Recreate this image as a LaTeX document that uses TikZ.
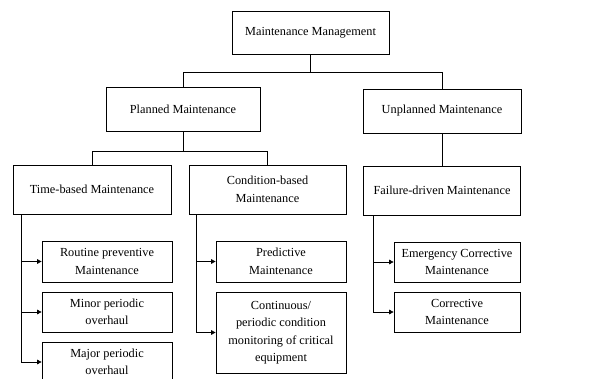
\documentclass[tikz,border=0pt]{standalone}
\usepackage{fontspec}
\setmainfont{Liberation Serif}
\usetikzlibrary{arrows.meta}
\begin{document}
\begin{tikzpicture}[x=1pt,y=-1pt,
  box/.style={draw, line width=0.7pt, align=center, inner sep=0pt,
    font=\fontsize{12.3}{17.5}\selectfont},
  link/.style={line width=0.7pt},
  arr/.style={line width=0.7pt, -{Triangle[length=4.5pt,width=4.5pt]}}]
\useasboundingbox (0,0) rectangle (612,379);
\clip (0,0) rectangle (612,379);
\fill[white] (0,0) rectangle (612,379);
\node[box, minimum width=157pt, minimum height=43pt] (top) at (310.5,32.5) {Maintenance Management};
\node[box, minimum width=154pt, minimum height=44pt] (planned) at (183,109) {Planned Maintenance};
\node[box, minimum width=158pt, minimum height=44pt] (unplanned) at (442,111) {Unplanned Maintenance};
\node[box, minimum width=158pt, minimum height=49pt] (time) at (92,189.5) {Time-based Maintenance};
\node[box, minimum width=157pt, minimum height=49pt] (cond) at (267.5,189.5) {Condition-based\\Maintenance};
\node[box, minimum width=157pt, minimum height=49pt] (fail) at (442,190.5) {Failure-driven Maintenance};
\node[box, minimum width=130pt, minimum height=41pt] (routine) at (107,261.5) {Routine preventive\\Maintenance};
\node[box, minimum width=130pt, minimum height=40pt] (minor) at (107,312) {Minor periodic\\overhaul};
\node[box, minimum width=130pt, minimum height=40pt] (major) at (107,362) {Major periodic\\overhaul};
\node[box, minimum width=130pt, minimum height=41pt] (pred) at (281,261.5) {Predictive\\Maintenance};
\node[box, minimum width=130pt, minimum height=81pt] (cont) at (281,332.5) {Continuous/\\periodic condition\\monitoring of critical\\equipment};
\node[box, minimum width=126pt, minimum height=40pt] (emerg) at (457,262) {Emergency Corrective\\Maintenance};
\node[box, minimum width=126pt, minimum height=40pt] (corr) at (457,312) {Corrective\\Maintenance};
% tree connectors
\coordinate (bus1) at ([yshift=-18pt]top.south);
\draw[link] (top.south) -- (bus1);
\draw[link] (planned.north) |- (bus1) -| (unplanned.north);
\coordinate (bus2) at ([yshift=-20pt]planned.south);
\draw[link] (planned.south) -- (bus2);
\draw[link] (time.north) |- (bus2) -| (cond.north);
\draw[link] (unplanned.south) -- (fail.north);
% side connectors
\coordinate (t0) at ([xshift=9pt]time.south west);
\draw[arr] (t0) |- (major.west);
\draw[arr] (t0 |- routine.west) -- (routine.west);
\draw[arr] (t0 |- minor.west) -- (minor.west);
\coordinate (c0) at ([xshift=8pt]cond.south west);
\draw[arr] (c0) |- (cont.west);
\draw[arr] (c0 |- pred.west) -- (pred.west);
\coordinate (f0) at ([xshift=10pt]fail.south west);
\draw[arr] (f0) |- (corr.west);
\draw[arr] (f0 |- emerg.west) -- (emerg.west);
\end{tikzpicture}
\end{document}
